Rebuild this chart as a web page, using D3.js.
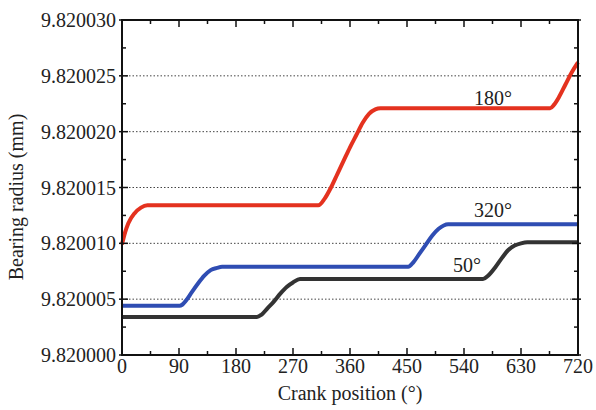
<!DOCTYPE html>
<html><head><meta charset="utf-8">
<script src="https://cdn.jsdelivr.net/npm/d3@7"></script>
<style>body{margin:0;background:#fff}svg{display:block}</style>
</head><body><svg id="c" width="596" height="410" font-family="Liberation Serif"></svg>
<script>
// Crank position (deg) and bearing radius (mm)
const x180 = [0,5,10,20,30,40,45,310,320,330,340,350,360,370,380,390,400,408,676,682,690,700,710,720];
const y180 = [9.8200099,9.820011,9.8200118,9.8200127,9.8200132,9.8200134,9.8200134,9.8200134,9.820014,9.820015,9.8200162,9.8200174,9.8200186,9.8200197,9.8200208,9.8200216,9.820022,9.8200221,9.8200221,9.8200224,9.8200231,9.8200242,9.8200253,9.8200262];
const x320 = [0,91,95,100,110,120,130,140,150,158,452,460,470,480,490,500,508,515,720];
const y320 = [9.8200044,9.8200044,9.8200045,9.8200048,9.8200056,9.8200064,9.8200071,9.8200076,9.8200078,9.8200079,9.8200079,9.8200083,9.8200091,9.8200099,9.8200107,9.8200113,9.8200116,9.8200117,9.8200117];
const x50 = [0,213,220,230,240,250,260,270,281,570,578,590,600,610,620,630,640,720];
const y50 = [9.8200034,9.8200034,9.8200036,9.8200042,9.8200048,9.8200055,9.8200061,9.8200065,9.8200068,9.8200068,9.8200071,9.8200079,9.8200087,9.8200094,9.8200098,9.82001,9.8200101,9.8200101];
const seriesNames = ["180°","320°","50°"];
const seriesColors = ["#e4321f","#2f4db3","#333333"];
const labelPos = [[493,105],[493,217],[467,272]];
const xTicks = [0,90,180,270,360,450,540,630,720];
const yTicks = [9.820000,9.820005,9.820010,9.820015,9.820020,9.820025,9.820030];
const xLabel = "Crank position (°)";
const yLabel = "Bearing radius (mm)";

const FONT="Liberation Serif";
const L=122,R=578,T=20,B=355;
const svg=d3.select("#c");
const x=d3.scaleLinear().domain([0,720]).range([L,R]);
const y=d3.scaleLinear().domain([9.82,9.82003]).range([B,T]);

svg.append("g").selectAll("line").data(yTicks.slice(1,-1)).join("line")
  .attr("x1",L).attr("x2",R).attr("y1",d=>y(d)).attr("y2",d=>y(d))
  .attr("stroke","#444").attr("stroke-width",1).attr("stroke-dasharray","1.5,2");

const series=[[x180,y180],[x320,y320],[x50,y50]];
const line=d3.line().x(d=>x(d[0])).y(d=>y(d[1])).curve(d3.curveMonotoneX);
series.forEach((s,i)=>{
  const pts=s[0].map((v,j)=>[v,s[1][j]]);
  svg.append("path").datum(pts).attr("d",line).attr("fill","none")
    .attr("stroke",seriesColors[i]).attr("stroke-width",4).attr("stroke-linejoin","round");
});

const minorX=d3.range(0,721,45), minorY=d3.range(0,31,2.5).map(v=>9.82+v*1e-6);
const ax=svg.append("g").attr("stroke","#111");
minorX.forEach(v=>{
  const len = v%90===0?7:4;
  ax.append("line").attr("x1",x(v)).attr("x2",x(v)).attr("y1",B).attr("y2",B-len).attr("stroke-width",1.5);
  ax.append("line").attr("x1",x(v)).attr("x2",x(v)).attr("y1",T).attr("y2",T+len).attr("stroke-width",1.5);
});
minorY.forEach((v,i)=>{
  const maj=i%2===0;
  const inn=maj?6:4, out=maj?3:0;
  ax.append("line").attr("x1",L-out).attr("x2",L+inn).attr("y1",y(v)).attr("y2",y(v)).attr("stroke-width",1.5);
  ax.append("line").attr("x1",R-inn).attr("x2",R+out).attr("y1",y(v)).attr("y2",y(v)).attr("stroke-width",1.5);
});
ax.append("rect").attr("x",L).attr("y",T).attr("width",R-L).attr("height",B-T)
  .attr("fill","none").attr("stroke-width",2);

function txt(g){ return g.attr("font-family",FONT).attr("fill","#222").attr("font-size",20); }
txt(svg.append("g").selectAll("text").data(yTicks).join("text")
  .attr("x",L-6).attr("y",d=>y(d)+7).attr("text-anchor","end")
  .text(d=>d3.format(".6f")(d)));
txt(svg.append("g").selectAll("text").data(xTicks).join("text")
  .attr("x",d=>x(d)).attr("y",373).attr("text-anchor","middle")
  .text(d=>d));
txt(svg.append("text").attr("x",(L+R)/2).attr("y",400).attr("text-anchor","middle").text(xLabel));
txt(svg.append("text").attr("transform","translate(23,197) rotate(-90)").attr("text-anchor","middle").text(yLabel));
seriesNames.forEach((n,i)=>{
  txt(svg.append("text").attr("x",labelPos[i][0]).attr("y",labelPos[i][1]).attr("text-anchor","middle").text(n));
});
</script></body></html>
